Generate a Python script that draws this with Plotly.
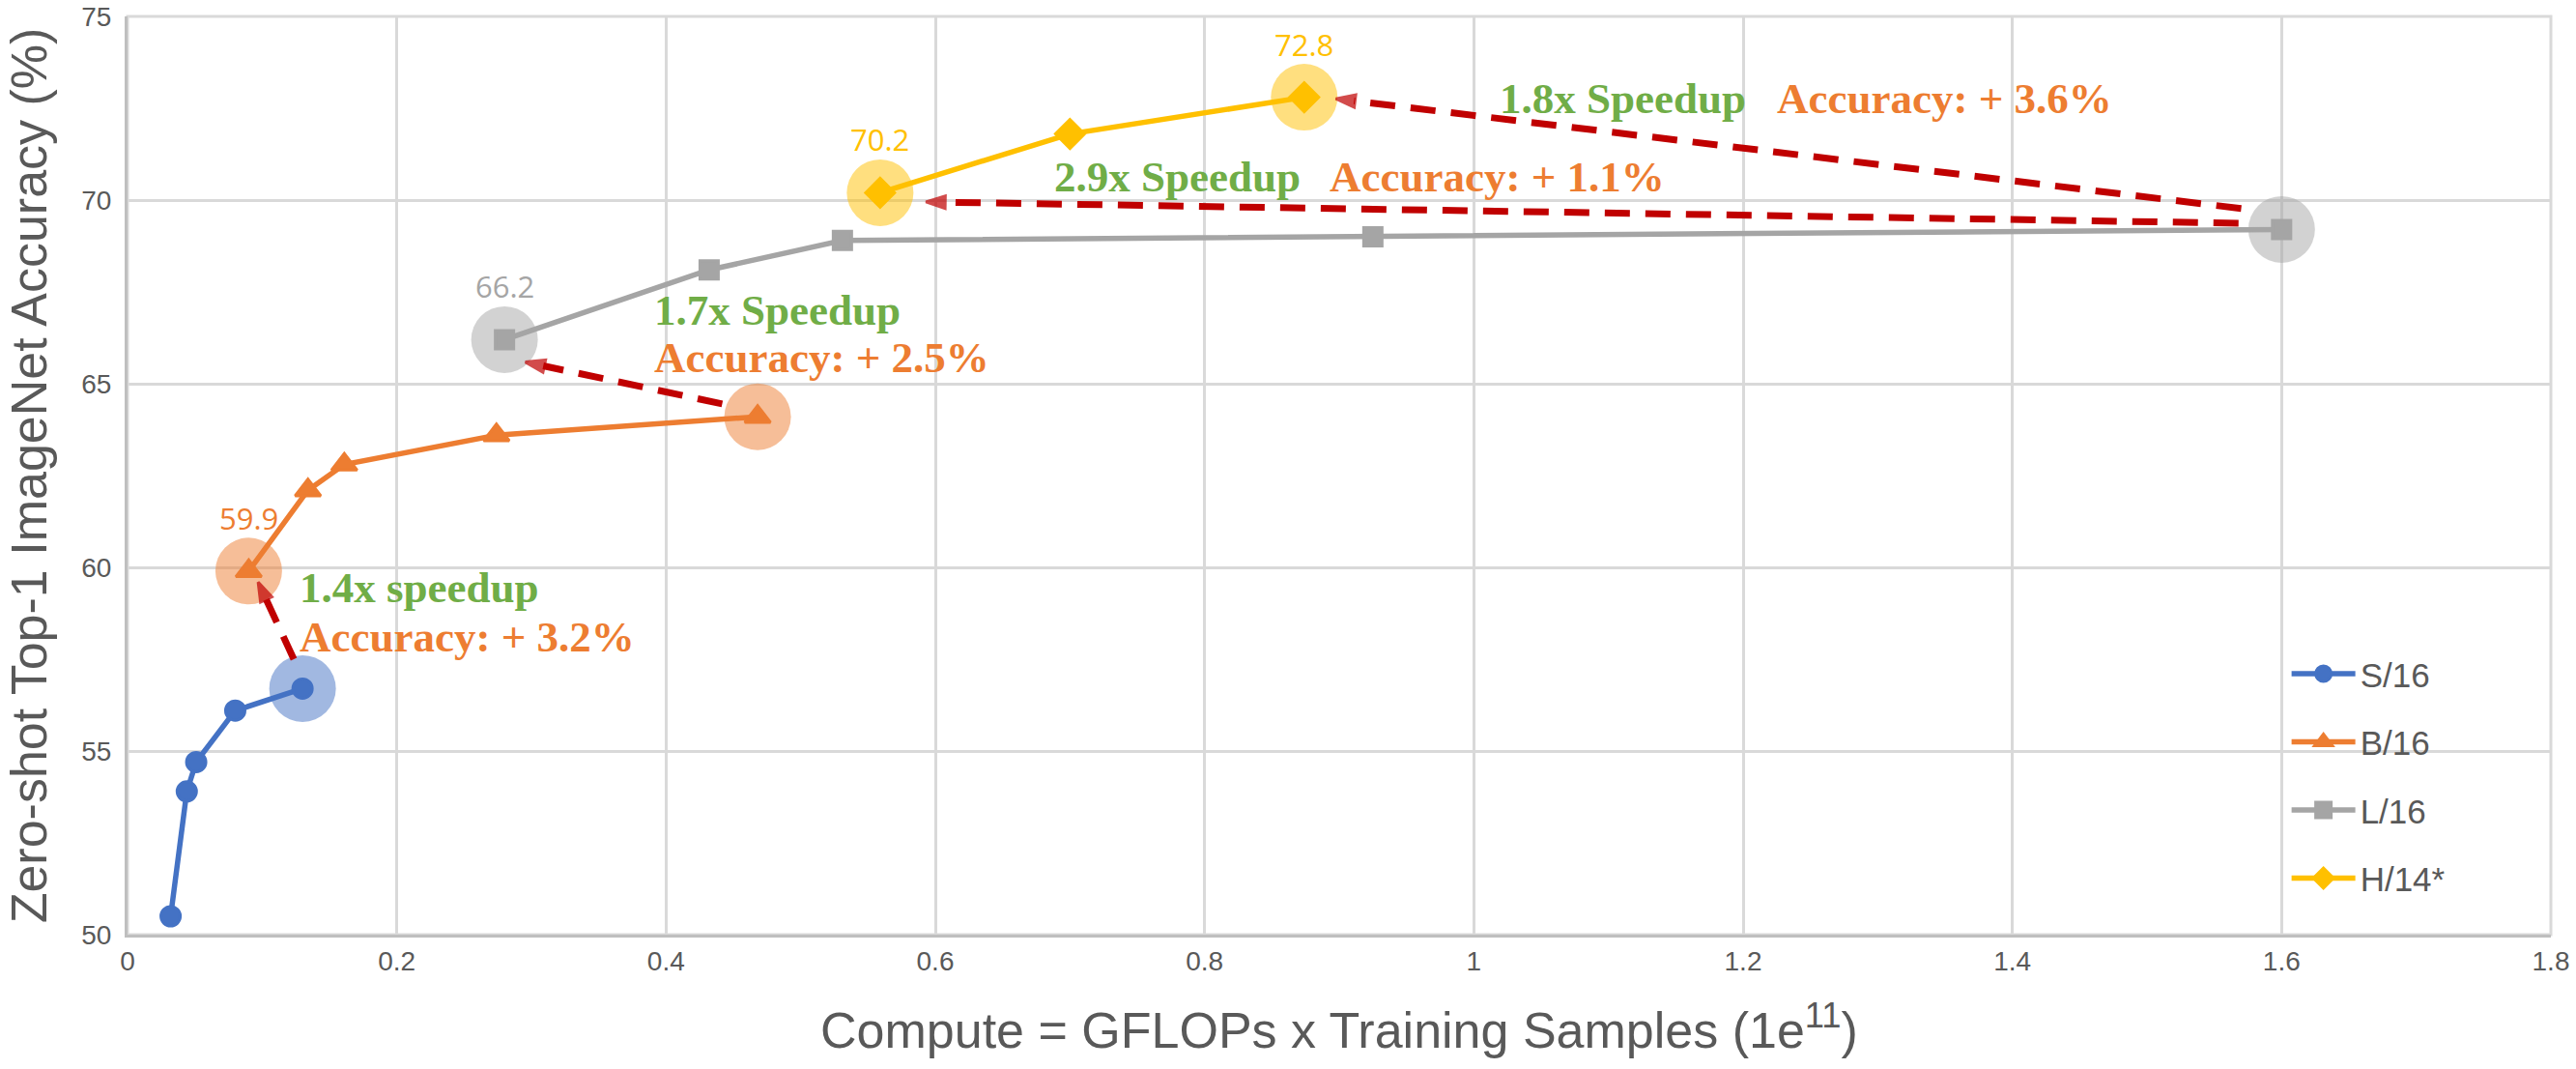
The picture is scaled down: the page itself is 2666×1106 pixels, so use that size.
import plotly.graph_objects as go

# compute (x 1e11 GFLOPs x samples) and zero-shot top-1 accuracy (%)
s16_x = [0.032, 0.044, 0.051, 0.080, 0.130]
s16_y = [50.5, 53.9, 54.7, 56.1, 56.7]
b16_x = [0.090, 0.134, 0.161, 0.274, 0.468]
b16_y = [59.9, 62.1, 62.8, 63.6, 64.1]
l16_x = [0.280, 0.432, 0.531, 0.925, 1.600]
l16_y = [66.2, 68.1, 68.9, 69.0, 69.2]
h14_x = [0.559, 0.700, 0.874]
h14_y = [70.2, 71.8, 72.8]

# which points get the translucent halo / a value label
s16_halo = [4]
b16_halo = [0, 4]
l16_halo = [0, 4]
h14_halo = [0, 2]
b16_label = [0]
l16_label = [0]
h14_label = [0, 2]

# dashed "speedup" arrows, start -> end
arrow_x0 = [0.1235, 0.4417, 1.568, 1.570]
arrow_y0 = [57.5, 64.45, 69.37, 69.77]
arrow_x1 = [0.097, 0.2955, 0.593, 0.8975]
arrow_y1 = [59.6, 65.59, 69.95, 72.76]

speedup_text = ["1.4x speedup", "1.7x Speedup", "2.9x Speedup", "1.8x Speedup"]
gain_text = ["Accuracy: + 3.2%", "Accuracy: + 2.5%", "Accuracy: + 1.1%", "Accuracy: + 3.6%"]

x_ticks = [0, 0.2, 0.4, 0.6, 0.8, 1, 1.2, 1.4, 1.6, 1.8]
y_ticks = [50, 55, 60, 65, 70, 75]

series = [
    ("S/16", s16_x, s16_y, s16_halo, [], "#4472C4", "rgba(68,114,196,0.5)", "circle", 20),
    ("B/16", b16_x, b16_y, b16_halo, b16_label, "#ED7D31", "rgba(237,125,49,0.5)", "triangle-up", 23),
    ("L/16", l16_x, l16_y, l16_halo, l16_label, "#A5A5A5", "rgba(165,165,165,0.5)", "square", 19),
    ("H/14*", h14_x, h14_y, h14_halo, h14_label, "#FFC000", "rgba(255,192,0,0.5)", "diamond", 23),
]

GREEN = "#70AD47"
ORANGE = "#ED7D31"
RED = "#C00000"
TEXT = "#595959"

fig = go.Figure()

# halos go underneath everything
for name, xs, ys, halo, lab, color, light, sym, msize in series:
    fig.add_trace(go.Scatter(
        x=[xs[i] for i in halo], y=[ys[i] for i in halo],
        mode="markers", marker=dict(size=69, color=light),
        showlegend=False, hoverinfo="skip"))

for name, xs, ys, halo, lab, color, light, sym, msize in series:
    fig.add_trace(go.Scatter(
        x=xs, y=ys, name=name, mode="lines+markers", legendgroup=name,
        line=dict(color=color, width=5.5),
        marker=dict(symbol=sym, size=msize, color=color,
                    line=dict(color=color, width=3))))

# dashed arrows with a head at the end
for i in range(len(arrow_x0)):
    fig.add_trace(go.Scatter(
        x=[arrow_x0[i], arrow_x1[i]], y=[arrow_y0[i], arrow_y1[i]],
        mode="lines+markers",
        line=dict(color=RED, width=7, dash="26px,16px"),
        marker=dict(symbol="arrow", size=[0, 21], color=RED, angleref="previous",
                    line=dict(color=RED, width=3)),
        showlegend=False, hoverinfo="skip"))

annotations = []
for name, xs, ys, halo, lab, color, light, sym, msize in series:
    for i in lab:
        annotations.append(dict(
            x=xs[i], y=ys[i], text=f"{ys[i]:.1f}", showarrow=False, yshift=55,
            font=dict(family="Open Sans, Liberation Sans", size=31, color=color)))

bold = dict(family="Liberation Serif, Times New Roman", size=45)
# (x, y) of the left edge of each text line
speedup_pos = [(0.1262, 59.45), (0.390, 67.0), (0.6867, 70.63), (1.018, 72.76)]
gain_pos = [(0.1262, 58.1), (0.390, 65.7), (0.8914, 70.63), (1.2236, 72.76)]
for i in range(4):
    annotations.append(dict(
        x=speedup_pos[i][0], y=speedup_pos[i][1], text=f"<b>{speedup_text[i]}</b>",
        showarrow=False, xanchor="left", yanchor="middle",
        font=dict(color=GREEN, **bold)))
    annotations.append(dict(
        x=gain_pos[i][0], y=gain_pos[i][1], text=f"<b>{gain_text[i]}</b>",
        showarrow=False, xanchor="left", yanchor="middle",
        font=dict(color=ORANGE, **bold)))

fig.update_layout(
    width=2666, height=1106,
    margin=dict(l=132, r=26, t=17, b=139),
    paper_bgcolor="white", plot_bgcolor="white",
    font=dict(family="Liberation Sans, Arial", color=TEXT, size=28),
    annotations=annotations,
    legend=dict(
        x=0.891, y=0.315, xanchor="left", yanchor="top",
        font=dict(size=35, color=TEXT), tracegroupgap=22, itemwidth=66,
        bgcolor="rgba(0,0,0,0)"),
    xaxis=dict(
        range=[0, 1.8], tickvals=x_ticks, ticktext=[f"{t:g}" for t in x_ticks],
        showgrid=True, gridcolor="#D9D9D9", gridwidth=3, zeroline=False,
        showline=True, linecolor="#BFBFBF", linewidth=3,
        ticks="", tickfont=dict(size=28, color=TEXT), ticklabeloverflow="allow",
        title=dict(text="Compute = GFLOPs x Training Samples (1e<sup>11</sup>)",
                   font=dict(size=52, color=TEXT), standoff=40),
        automargin=False),
    yaxis=dict(
        range=[50, 75], tickvals=y_ticks,
        showgrid=True, gridcolor="#D9D9D9", gridwidth=3, zeroline=False,
        showline=True, linecolor="#BFBFBF", linewidth=3,
        ticks="", tickfont=dict(size=28, color=TEXT), ticklabelstandoff=8,
        ticklabeloverflow="allow",
        title=dict(text="Zero-shot Top-1 ImageNet Accuracy (%)",
                   font=dict(size=52, color=TEXT), standoff=20),
        automargin=False),
)

# light frame on top and right
fig.add_shape(type="rect", xref="paper", yref="paper", x0=0, y0=0, x1=1, y1=1,
              line=dict(color="#D9D9D9", width=3), layer="below")

# drop the default 8px page margin so the figure fills the window exactly
fig.write_html("out.html", config={"displayModeBar": False},
               post_script="document.body.style.margin = '0';")
